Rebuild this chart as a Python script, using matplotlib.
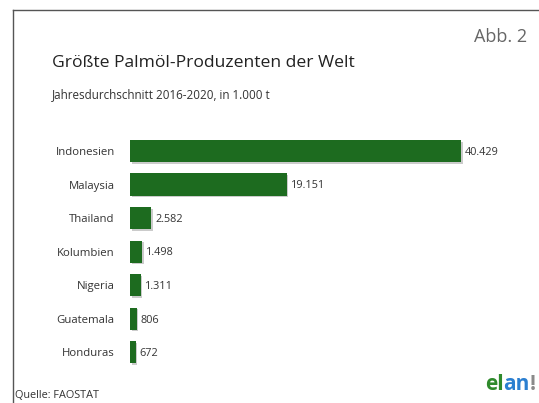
import matplotlib.pyplot as plt
import matplotlib.patheffects as pe
from matplotlib.lines import Line2D

plt.rcParams['font.family'] = ['Open Sans', 'DejaVu Sans']

laender = ['Indonesien', 'Malaysia', 'Thailand', 'Kolumbien', 'Nigeria', 'Guatemala', 'Honduras']
produktion = [40429, 19151, 2582, 1498, 1311, 806, 672]
werte_text = ['40.429', '19.151', '2.582', '1.498', '1.311', '806', '672']

gruen = '#1d6b1f'

fig = plt.figure(figsize=(5.39, 4.03), dpi=100)
fig.patch.set_facecolor('white')

# Rahmen oben und links
fig.add_artist(Line2D([13 / 539, 13 / 539], [0, 1 - 10 / 403], transform=fig.transFigure, color='#555555', lw=1))
fig.add_artist(Line2D([13 / 539, 1], [1 - 10 / 403, 1 - 10 / 403], transform=fig.transFigure, color='#555555', lw=1))

ax = fig.add_axes([130 / 539, 0.0844, 400 / 539, 0.667 - 0.0844])
pos = list(range(len(laender)))
bars = ax.barh(pos, produktion, height=0.66, color=gruen)
for b in bars:
    b.set_path_effects([pe.SimplePatchShadow(offset=(1.2, -1.2), shadow_rgbFace='#999999', alpha=0.5), pe.Normal()])

for b, t in zip(bars, werte_text):
    ax.annotate(t, (b.get_width(), b.get_y() + b.get_height() / 2), xytext=(3, -1),
                textcoords='offset points', va='center', ha='left', fontsize=7.8, color='#333333')

ax.set_xlim(0, 48850)
ax.set_ylim(6.5, -0.5)
ax.set_yticks(pos)
ax.set_yticklabels(laender, fontsize=8.2, color='#333333')
ax.tick_params(axis='y', length=0, pad=11)
ax.set_xticks([])
for s in ax.spines.values():
    s.set_visible(False)

fig.text(52 / 539, 1 - 63 / 403, 'Größte Palmöl-Produzenten der Welt', fontsize=12.6, color='#222222', va='center')
fig.text(52 / 539, 1 - 95 / 403, 'Jahresdurchschnitt 2016-2020, in 1.000 t', fontsize=8.4, color='#333333', va='center')
fig.text(527 / 539, 1 - 37 / 403, 'Abb. 2', fontsize=13, color='#666666', va='center', ha='right')
fig.text(15 / 539, 1 - 395 / 403, 'Quelle: FAOSTAT', fontsize=7.8, color='#333333', va='center')

# Logo: Teile nacheinander setzen
t1 = fig.text(485 / 539, 1 - 390 / 403, 'el', fontsize=15, fontweight='bold', color='#2f8a2c', va='baseline')
t2 = ax.annotate('an', xy=(1, 0), xycoords=t1, fontsize=15, fontweight='bold', color='#2b7fd0',
                 va='bottom', ha='left', annotation_clip=False)
ax.annotate('!', xy=(1, 0), xycoords=t2, fontsize=15, fontweight='bold', color='#8a8a8a',
            va='bottom', ha='left', annotation_clip=False)

fig.savefig('out.png', dpi=100)
